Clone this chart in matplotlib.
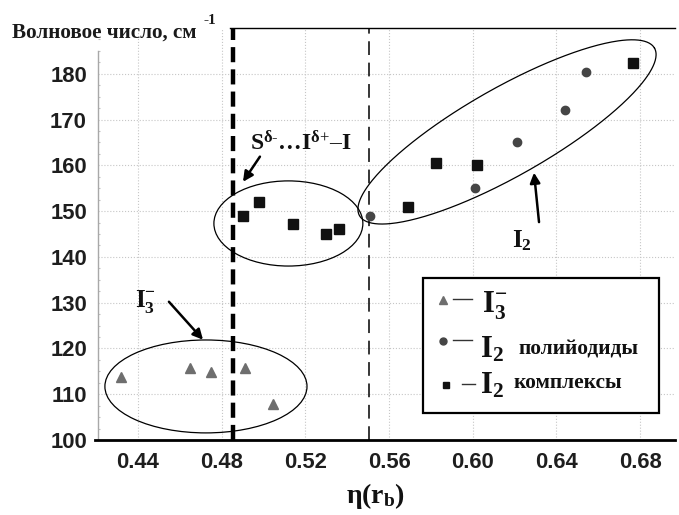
import numpy as np
import matplotlib
matplotlib.use('Agg')
import matplotlib.pyplot as plt
from matplotlib.patches import Ellipse, Rectangle
from matplotlib.ticker import MultipleLocator

# ---------------- data ----------------
tri_x = [0.432, 0.465, 0.475, 0.491, 0.5045]          # I3-
tri_y = [113.8, 115.7, 114.9, 115.7, 107.9]
circ_x = [0.551, 0.601, 0.621, 0.644, 0.654]          # I2 polyiodides
circ_y = [149.0, 155.0, 165.1, 172.1, 180.4]
sq_x = [0.490, 0.498, 0.514, 0.530, 0.536, 0.569, 0.5825, 0.602, 0.6765]  # I2 complexes
sq_y = [149.0, 152.0, 147.1, 145.0, 146.1, 150.9, 160.6, 160.1, 182.3]

x_ticks = [0.44, 0.48, 0.52, 0.56, 0.60, 0.64, 0.68]
x_tick_labels = ['0.44', '0.48', '0.52', '0.56', '0.60', '0.64', '0.68']
y_ticks = [100, 110, 120, 130, 140, 150, 160, 170, 180]
y_tick_labels = ['100', '110', '120', '130', '140', '150', '160', '170', '180']

thick_line_x = 0.4854
thin_line_x = 0.5505

ylabel_text = 'Волновое число, см'
ylabel_sup = '-1'
xlabel_text = r'$\mathbf{η(r_b)}$'
legend_labels = [r'$\mathbf{I_3^{-}}$', r'$\mathbf{I_2}$', r'$\mathbf{I_2}$']
legend_words = ['', 'полийодиды', 'комплексы']

# ---------------- style ----------------
plt.rcParams['font.family'] = ['Liberation Sans', 'DejaVu Sans']
plt.rcParams['mathtext.fontset'] = 'custom'
plt.rcParams['mathtext.rm'] = 'Liberation Serif'
plt.rcParams['mathtext.bf'] = 'Liberation Serif:bold'
plt.rcParams['mathtext.it'] = 'Liberation Serif:italic'
plt.rcParams['mathtext.sf'] = 'Liberation Serif'
plt.rcParams['mathtext.tt'] = 'Liberation Serif'
plt.rcParams['mathtext.cal'] = 'Liberation Serif'

SERIF = ['Liberation Serif', 'DejaVu Serif']
TRI_C = '#6e6e6e'
CIRC_C = '#454545'
SQ_C = '#111111'

W, H = 679, 515
fig = plt.figure(figsize=(W / 100, H / 100), dpi=100)
ax = fig.add_axes([98 / W, 75 / H, 577 / W, 412 / H])

ax.set_xlim(0.4209, 0.6967)
ax.set_ylim(100, 190)

ax.set_xticks(x_ticks)
ax.set_xticklabels(x_tick_labels)
ax.set_yticks(y_ticks)
ax.set_yticklabels(y_tick_labels)
for lab in ax.get_xticklabels() + ax.get_yticklabels():
    lab.set_fontweight('bold')
    lab.set_fontsize(15.8)
    lab.set_color('#1e1e1e')
ax.tick_params(axis='both', which='major', length=0)
ax.tick_params(axis='x', pad=9)
ax.tick_params(axis='y', pad=8)
ax.yaxis.set_minor_locator(MultipleLocator(2.5))
ax.tick_params(axis='y', which='minor', length=1.5, width=0.8, color='#c0c0c0', direction='in')

ax.grid(True, which='major', linestyle=':', color='#c6c6c6', linewidth=0.8)
ax.set_axisbelow(True)

ax.spines['right'].set_visible(False)
ax.spines['top'].set_linewidth(1.0)
ax.spines['top'].set_bounds(0.484, 0.6967)
ax.spines['left'].set_color('#a8a8a8')
ax.spines['left'].set_linewidth(1.0)
ax.spines['left'].set_bounds(100, 185)
ax.spines['bottom'].set_linewidth(2.0)
ax.spines['bottom'].set_bounds(0.4195, 0.6967)

# vertical dashed lines
ax.axvline(thick_line_x, color='black', lw=3.2, linestyle=(0, (3.4, 1.6)), zorder=2)
ax.axvline(thin_line_x, color='black', lw=1.1, linestyle=(0, (9, 5)), zorder=2)

# ellipses
ax.add_patch(Ellipse((0.4725, 111.7), 0.0966, 20.3, fill=False, ec='black', lw=0.9, zorder=3))
ax.add_patch(Ellipse((0.5119, 147.3), 0.0712, 18.6, fill=False, ec='black', lw=0.9, zorder=3))
big_c = (0.6164, 167.3)
big_u = (0.0705, 18.3)
big_v = (0.01037, -8.37)
t = np.linspace(0, 2 * np.pi, 400)
ax.plot(big_c[0] + big_u[0] * np.cos(t) + big_v[0] * np.sin(t),
        big_c[1] + big_u[1] * np.cos(t) + big_v[1] * np.sin(t),
        color='black', lw=0.9, zorder=3)

# data points
ax.plot(tri_x, tri_y, linestyle='none', marker='^', ms=7.5, color=TRI_C, zorder=4)
ax.plot(circ_x, circ_y, linestyle='none', marker='o', ms=6, color=CIRC_C, zorder=4)
ax.plot(sq_x, sq_y, linestyle='none', marker='s', ms=6.5, color=SQ_C, zorder=4)

# annotations with arrows
arrow_kw = dict(arrowstyle='-|>', lw=1.8, color='black', mutation_scale=15, shrinkA=0, shrinkB=0)
ax.annotate('', xy=(0.4711, 121.9), xytext=(0.4548, 130.2), arrowprops=arrow_kw, zorder=5)
ax.annotate('', xy=(0.4902, 156.4), xytext=(0.4983, 161.9), arrowprops=arrow_kw, zorder=5)
ax.annotate('', xy=(0.6293, 158.4), xytext=(0.6317, 147.6), arrowprops=arrow_kw, zorder=5)

ax.text(0.4386, 129.1, r'$\mathbf{I_3^{-}}$', fontsize=18, va='baseline', ha='left', color='#111')
ax.text(0.4935, 163.4, r'$\mathbf{S^{δ\text{-}}…I^{δ\text{+}}\text{–}I}$', fontsize=17,
        va='baseline', ha='left', color='#111')
ax.text(0.6188, 142.0, r'$\mathbf{I_2}$', fontsize=18, va='baseline', ha='left', color='#111')

# custom legend box
def axf(px, py):
    return ((px - 98) / 577, (440 - py) / 412)

lx0, ly0 = axf(423, 413)
lx1, ly1 = axf(659, 278)
ax.add_patch(Rectangle((lx0, ly0), lx1 - lx0, ly1 - ly0, transform=ax.transAxes,
                       fc='white', ec='black', lw=1.6, zorder=6))

entries = [
    dict(marker='^', color=TRI_C, ms=6, mpx=443, y=300, d0=453, d1=472, ipx=482, ibase=313, wpx=518, wbase=353),
    dict(marker='o', color=CIRC_C, ms=5, mpx=443, y=341, d0=453, d1=472, ipx=480, ibase=357, wpx=518, wbase=354),
    dict(marker='s', color=SQ_C, ms=5, mpx=446, y=385, d0=462, d1=475, ipx=480, ibase=393, wpx=513, wbase=388),
]
for e, lab, word in zip(entries, legend_labels, legend_words):
    mx, my = axf(e['mpx'], e['y'])
    ax.plot([mx], [my], marker=e['marker'], ms=e['ms'], color=e['color'], linestyle='none',
            transform=ax.transAxes, zorder=7, clip_on=False)
    dx0, dy = axf(e['d0'], e['y'] - 1)
    dx1, _ = axf(e['d1'], e['y'] - 1)
    ax.plot([dx0, dx1], [dy, dy], color='#333', lw=1.0, transform=ax.transAxes, zorder=7, clip_on=False)
    ix, iy = axf(e['ipx'], e['ibase'])
    ax.text(ix, iy, lab, fontsize=22, transform=ax.transAxes, va='baseline', ha='left', zorder=7, color='#111')
    if word:
        wx, wy = axf(e['wpx'], e['wbase'])
        ax.text(wx, wy, word, fontsize=15.4, fontweight='bold', family=SERIF, transform=ax.transAxes,
                va='baseline', ha='left', zorder=7, color='#111')

# axis titles
fig.text(12 / W, 1 - 33 / H, ylabel_text, family=SERIF, fontweight='bold', fontsize=15.2,
         va='center', ha='left', color='#1a1a1a')
fig.text(203 / W, 1 - 20 / H, ylabel_sup, family=SERIF, fontweight='bold', fontsize=11,
         va='center', ha='left', color='#1a1a1a')
fig.text(376 / W, 19 / H, xlabel_text, fontsize=20, ha='center', va='center', color='#111')

fig.savefig('out.png', dpi=100)
